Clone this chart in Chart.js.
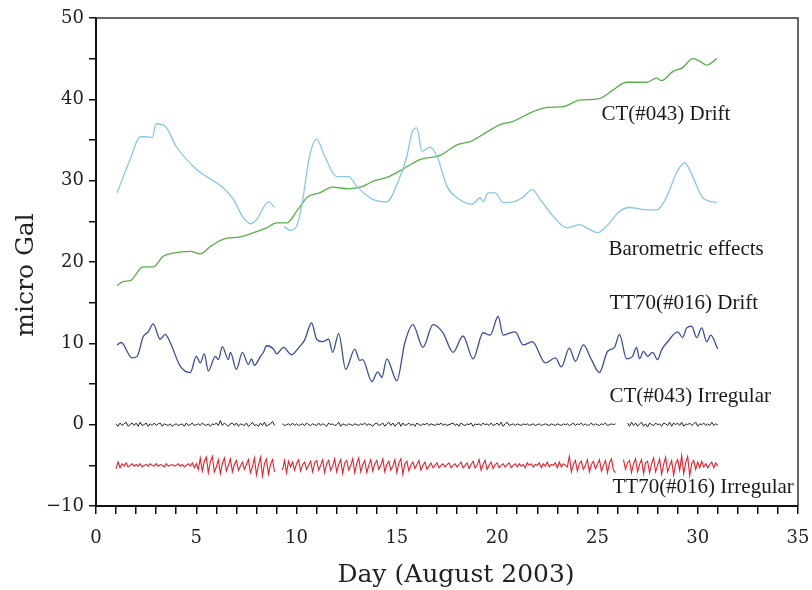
<!DOCTYPE html>
<html><head><meta charset="utf-8">
<script src="https://cdn.jsdelivr.net/npm/chart.js@4"></script>
<style>html,body{margin:0;padding:0;background:#fff}#wrap{width:812px;height:590px;position:relative}</style>
</head><body><div id="wrap"><canvas id="c"></canvas></div>
<script>
// ---- data ----
const baroDays = [1.05,1.7,2.2,2.5,2.8,3.0,3.45,4.0,5.0,6.35,6.85,7.3,7.7,8.0,8.6,8.9,9.1,9.35,9.7,10.0,10.25,10.65,11.0,11.4,12.0,12.6,13.0,13.8,14.5,15.05,15.5,15.75,16.0,16.25,16.65,17.0,17.5,18.0,18.75,19.15,19.3,19.55,19.9,20.3,20.8,21.25,21.75,22.15,22.8,23.5,24.1,24.6,25.0,25.45,26.1,26.6,27.45,27.95,28.45,28.95,29.35,29.75,30.25,30.95];
const baroVals = [28.5,32.6,35.4,35.4,35.3,37.0,36.7,34.2,31.4,29.1,27.7,25.6,24.7,25.2,27.4,26.7,null,24.4,23.9,24.4,26.8,33.0,35.1,33.0,30.5,30.5,29.3,27.7,27.4,29.8,33.0,35.9,36.5,33.6,34.1,33.0,29.3,27.9,27.1,27.9,27.4,28.5,28.5,27.3,27.4,27.9,28.9,27.7,25.6,24.2,24.6,24.0,23.6,24.4,26.2,26.7,26.4,26.4,28.0,31.0,32.2,30.5,27.9,27.3];

const ctDriftDays = [1.05,1.35,1.7,2.35,2.85,3.35,3.85,4.7,5.2,5.7,6.35,7.2,7.85,8.5,9.0,9.5,10.05,10.55,11.15,11.8,12.55,13.3,13.8,14.5,15.15,16.15,17.15,18.0,18.65,19.5,20.15,20.8,21.8,22.5,23.3,24.1,25.1,25.8,26.45,27.45,27.95,28.2,28.75,29.25,29.75,30.1,30.45,30.95];
const ctDriftVals = [17.1,17.6,17.7,19.4,19.4,20.7,21.1,21.3,21.0,21.9,22.8,23.1,23.6,24.2,24.8,24.8,26.4,28.0,28.5,29.2,29.0,29.3,29.9,30.4,31.2,32.6,33.1,34.4,34.8,36.0,36.9,37.3,38.5,39.0,39.1,39.9,40.1,41.2,42.1,42.1,42.6,42.3,43.4,43.9,45.0,44.7,44.2,45.0];

const ttDriftDays = [1.05,1.25,1.8,2.05,2.35,2.6,2.85,3.2,3.45,3.7,4.2,4.7,5.0,5.2,5.4,5.6,5.95,6.1,6.3,6.6,6.7,7.0,7.3,7.6,7.75,7.9,8.2,8.35,8.5,8.85,9.0,9.35,9.75,10.15,10.4,10.75,11.0,11.3,11.6,11.8,12.1,12.45,12.9,13.15,13.3,13.75,14.05,14.25,14.5,15.0,15.4,15.8,16.3,16.8,17.3,17.8,18.3,18.8,19.3,19.65,20.05,20.3,20.65,20.9,21.3,21.75,22.4,22.9,23.2,23.6,23.9,24.3,24.7,25.1,25.5,25.85,26.1,26.45,26.75,26.95,27.1,27.3,27.5,27.75,28.0,28.2,28.5,29.0,29.25,29.45,29.7,29.95,30.2,30.45,30.65,31.0];
const ttDriftVals = [9.8,10.1,8.2,8.4,10.8,11.4,12.4,10.5,11.1,10.1,7.2,6.4,8.4,7.6,8.7,6.6,8.4,8.0,9.6,8.0,8.9,6.8,8.9,7.4,8.1,7.3,8.4,8.9,9.7,9.3,8.7,9.5,8.6,9.6,10.4,12.5,10.5,10.2,10.5,8.9,11.2,6.8,9.3,7.9,8.0,5.3,6.5,5.8,8.1,5.4,10.1,12.3,9.5,12.3,11.3,8.9,10.9,8.1,11.3,11.0,13.3,11.0,11.3,11.4,9.8,10.2,7.6,8.2,7.1,9.4,7.8,9.8,8.0,6.4,9.0,9.5,11.1,8.1,8.4,9.5,8.1,9.0,8.4,8.9,8.0,9.2,10.2,11.4,10.7,11.9,12.1,10.7,11.9,10.2,11.0,9.3];

// irregular series sampled every 0.1 day from day 1.0 to 31.0
const irrStartDay = 1.0;
const irrStepDay = 0.1;
const ctIrrVals = [
 0.1,-0.2,0.2,-0.1,0.1,0.3,-0.2,0.0,0.2,-0.1,
 0.2,-0.2,0.3,-0.1,0.0,0.2,-0.2,0.1,-0.1,0.2,
 -0.1,0.1,0.2,-0.2,0.1,0.0,-0.1,0.1,-0.2,0.0,
 0.1,-0.1,0.0,0.1,-0.2,0.2,-0.1,0.0,0.2,-0.1,
 0.0,0.1,-0.1,0.2,0.0,-0.1,0.1,-0.2,0.1,0.0,
 0.2,-0.1,0.5,-0.1,0.2,0.0,-0.2,0.1,0.2,-0.1,
 0.2,-0.2,0.1,0.0,-0.1,0.2,-0.2,0.0,0.3,-0.1,
 0.0,-0.2,0.2,-0.1,0.3,-0.2,0.0,0.1,0.4,-0.1,
 null,null,null,0.1,-0.1,0.0,0.1,-0.1,0.2,-0.1,
 0.1,-0.1,0.0,0.1,-0.1,0.2,0.0,-0.1,0.1,0.0,
 -0.1,0.2,-0.1,0.1,0.0,-0.2,0.2,0.0,0.1,-0.1,
 0.0,0.3,-0.2,0.1,0.0,-0.1,0.1,0.0,-0.1,0.1,
 0.0,-0.1,0.1,0.0,0.2,-0.1,0.1,0.0,-0.2,0.1,
 0.2,-0.1,0.0,0.2,-0.2,0.1,0.3,-0.1,0.2,-0.2,
 0.1,0.3,-0.2,0.2,-0.1,0.0,0.2,-0.1,0.1,-0.2,
 0.2,0.0,-0.1,0.1,0.0,0.2,-0.1,0.1,0.0,-0.1,
 0.1,0.0,0.2,-0.1,0.1,-0.1,0.0,0.1,0.2,-0.1,
 0.1,-0.2,0.2,0.0,-0.1,0.1,0.0,0.2,-0.2,0.1,
 0.0,0.1,-0.1,0.2,0.0,0.1,-0.1,0.2,-0.1,0.0,
 0.2,-0.1,0.3,-0.2,0.1,0.3,-0.1,0.0,0.1,-0.1,
 0.1,0.0,-0.1,0.1,0.0,0.1,-0.1,0.0,0.1,-0.1,
 0.0,0.1,-0.1,0.0,0.1,0.0,-0.1,0.1,0.0,-0.1,
 0.1,0.0,-0.1,0.1,0.0,0.1,-0.1,0.0,0.2,-0.1,
 0.1,0.0,0.2,-0.1,0.1,-0.1,0.0,0.2,-0.1,0.1,
 0.0,-0.1,0.1,0.0,0.2,-0.1,0.0,0.1,0.0,0.1,
 null,null,null,null,null,0.2,-0.2,0.3,-0.1,0.2,
 -0.2,0.1,0.3,-0.2,0.1,-0.3,0.2,0.0,-0.1,0.2,
 0.0,0.1,-0.2,0.2,0.1,-0.1,0.3,-0.2,0.2,0.0,
 0.2,-0.1,0.3,-0.2,0.1,0.0,0.2,-0.1,0.1,0.3,
 -0.2,0.1,0.0,0.2,-0.1,0.1,-0.1,0.3,-0.1,0.1,
 0.0];
const ttIrrVals = [
 -5.4,-4.6,-5.3,-4.8,-5.1,-4.7,-5.2,-5.0,-4.8,-5.1,
 -4.9,-5.1,-4.8,-5.2,-5.0,-4.9,-5.1,-4.8,-5.0,-5.1,
 -4.8,-5.1,-4.9,-5.0,-5.2,-4.8,-5.1,-5.0,-4.9,-5.1,
 -5.0,-4.8,-5.1,-4.9,-5.2,-5.0,-4.8,-5.1,-4.7,-5.3,
 -4.8,-5.5,-4.1,-5.7,-4.5,-4.0,-5.9,-4.6,-3.9,-5.8,
 -5.2,-4.3,-6.0,-4.8,-4.1,-5.7,-5.0,-4.2,-5.8,-4.9,
 -4.4,-5.6,-5.1,-4.6,-5.5,-4.9,-4.3,-5.9,-5.2,-4.1,
 -6.2,-5.0,-4.0,-6.3,-4.8,-4.2,-6.1,-4.9,-4.3,-5.8,
 null,null,null,-5.6,-4.4,-5.9,-4.5,-5.2,-4.6,-5.6,
 -4.8,-4.3,-5.7,-4.9,-4.6,-5.5,-5.0,-4.5,-5.8,-4.7,
 -4.4,-5.6,-5.0,-4.3,-5.9,-4.8,-4.4,-5.6,-5.1,-4.2,
 -5.8,-4.9,-4.3,-6.0,-4.7,-4.4,-5.6,-5.0,-4.2,-5.9,
 -4.8,-4.1,-5.8,-4.9,-4.4,-5.9,-5.0,-4.3,-5.7,-4.8,
 -4.4,-5.5,-5.0,-4.2,-5.8,-4.9,-4.5,-5.6,-5.1,-4.3,
 -5.9,-4.7,-4.2,-6.1,-4.8,-4.5,-5.7,-5.0,-4.6,-5.4,
 -4.9,-4.4,-5.6,-5.0,-4.6,-5.5,-5.1,-4.7,-5.3,-5.0,
 -4.7,-5.3,-5.0,-4.8,-5.2,-4.9,-4.7,-5.3,-5.0,-4.8,
 -5.2,-4.9,-4.6,-5.3,-5.0,-4.7,-5.4,-4.9,-4.5,-5.3,
 -5.0,-4.3,-5.6,-4.9,-4.4,-5.5,-5.0,-4.6,-5.4,-4.9,
 -4.7,-5.3,-5.0,-4.8,-5.2,-4.9,-4.7,-5.3,-5.0,-4.8,
 -5.2,-4.8,-5.1,-4.9,-5.3,-4.7,-5.0,-4.8,-5.2,-4.9,
 -5.0,-4.7,-5.3,-4.8,-5.1,-4.6,-5.2,-4.9,-5.0,-4.7,
 -5.3,-4.6,-5.2,-4.8,-5.0,-5.2,-3.9,-5.8,-4.9,-4.4,
 -5.7,-4.8,-4.5,-5.5,-5.0,-4.3,-5.8,-4.9,-4.5,-5.4,
 -4.9,-4.3,-5.7,-5.0,-4.4,-5.9,-4.7,-4.2,-5.6,-5.9,
 null,null,null,-4.3,-5.5,-4.7,-4.4,-5.9,-4.8,-4.2,
 -5.8,-4.9,-4.3,-6.0,-4.7,-4.5,-5.9,-4.8,-4.1,-5.8,
 -5.0,-4.2,-6.1,-4.9,-4.0,-5.8,-5.1,-4.4,-6.2,-4.8,
 -4.3,-5.6,-3.8,-6.0,-4.7,-3.9,-6.3,-4.8,-4.4,-5.5,
 -4.6,-5.3,-4.5,-5.2,-4.8,-5.3,-4.9,-4.6,-5.3,-4.7,
 -5.1];

const labelTexts = ['CT(#043) Drift','Barometric effects','TT70(#016) Drift','CT(#043) Irregular','TT70(#016) Irregular'];
const labelDays = [25.2,25.55,25.6,25.6,25.75];
const labelVals = [38.1,21.5,14.9,3.45,-7.75];

const xTitle = 'Day (August 2003)';
const yTitle = 'micro Gal';
const xMin = 0, xMax = 35, xStep = 1, xLabelEvery = 5;
const yMin = -10, yMax = 50, yStep = 5, yLabelEvery = 10;

// ---- build ----
const pts = (xs, ys) => xs.map((x, i) => ({x: x, y: ys[i]}));
const irrPts = ys => ys.map((y, i) => ({x: +(irrStartDay + i * irrStepDay).toFixed(2), y: y}));
const TIMES = '"Liberation Serif", serif';
const CENTURY = '"DejaVu Serif", "Liberation Serif", serif';

const framePlugin = {
  id: 'frameAndLabels',
  afterDatasetsDraw(chart) {
    const {ctx, chartArea: a, scales} = chart;
    ctx.save();
    ctx.strokeStyle = '#333';
    ctx.lineWidth = 1.5;
    ctx.beginPath();
    ctx.moveTo(a.left, a.top);
    ctx.lineTo(a.right, a.top);
    ctx.lineTo(a.right, a.bottom);
    ctx.stroke();
    ctx.fillStyle = '#1a1a1a';
    ctx.font = '21px ' + TIMES;
    ctx.textAlign = 'left';
    ctx.textBaseline = 'middle';
    labelTexts.forEach((t, i) => {
      ctx.fillText(t, scales.x.getPixelForValue(labelDays[i]), scales.y.getPixelForValue(labelVals[i]));
    });
    // axis titles
    ctx.fillStyle = '#222';
    ctx.font = '25px ' + CENTURY;
    ctx.textAlign = 'center';
    ctx.fillText(xTitle, (a.left + a.right) / 2 + 9, chart.height - 15);
    ctx.translate(26, (a.top + a.bottom) / 2 + 13);
    ctx.rotate(-Math.PI / 2);
    ctx.fillText(yTitle, 0, 0);
    ctx.restore();
  }
};

const common = {pointRadius: 0, borderWidth: 1.3, fill: false, spanGaps: false};

new Chart(document.getElementById('c'), {
  type: 'line',
  data: {
    datasets: [
      Object.assign({label: 'Barometric effects', data: pts(baroDays, baroVals), borderColor: '#86c8e6', cubicInterpolationMode: 'monotone'}, common),
      Object.assign({label: 'CT(#043) Drift', data: pts(ctDriftDays, ctDriftVals), borderColor: '#5aae4a', cubicInterpolationMode: 'monotone'}, common),
      Object.assign({label: 'TT70(#016) Drift', data: pts(ttDriftDays, ttDriftVals), borderColor: '#3a4d9c', cubicInterpolationMode: 'monotone'}, common),
      Object.assign({label: 'CT(#043) Irregular', data: irrPts(ctIrrVals), borderColor: '#222', tension: 0}, common, {borderWidth: 1}),
      Object.assign({label: 'TT70(#016) Irregular', data: irrPts(ttIrrVals), borderColor: '#e3212e', tension: 0}, common, {borderWidth: 1.1})
    ]
  },
  options: {
    responsive: true,
    maintainAspectRatio: false,
    animation: false,
    layout: {padding: {top: 18, right: 14, left: 0, bottom: 0}},
    plugins: {legend: {display: false}, tooltip: {enabled: false}},
    scales: {
      x: {
        type: 'linear', min: xMin, max: xMax,
        afterFit: s => { s.height = 84; s.paddingRight = 0; s.paddingLeft = 0; },
        ticks: {
          stepSize: xStep, autoSkip: false, maxRotation: 0, padding: 14,
          color: '#222', font: {family: CENTURY, size: 18},
          callback: v => (v % xLabelEvery === 0 ? String(v) : '')
        },
        grid: {drawOnChartArea: false, drawTicks: true, tickLength: 8, color: '#111', lineWidth: 1.5},
        border: {display: true, color: '#111', width: 2},
        title: {display: false, text: xTitle}
      },
      y: {
        type: 'linear', min: yMin, max: yMax,
        afterFit: s => { s.width = 96; s.paddingTop = 0; s.paddingBottom = 0; },
        ticks: {
          stepSize: yStep, autoSkip: false, padding: 5,
          color: '#222', font: {family: CENTURY, size: 18},
          callback: v => (v % yLabelEvery === 0 ? (v < 0 ? '\u2212' + Math.abs(v) : String(v)) : '')
        },
        grid: {drawOnChartArea: false, drawTicks: true, tickLength: 7, color: '#111', lineWidth: 1.5},
        border: {display: true, color: '#111', width: 2},
        title: {display: false, text: yTitle}
      }
    }
  },
  plugins: [framePlugin]
});
</script>
</body></html>
